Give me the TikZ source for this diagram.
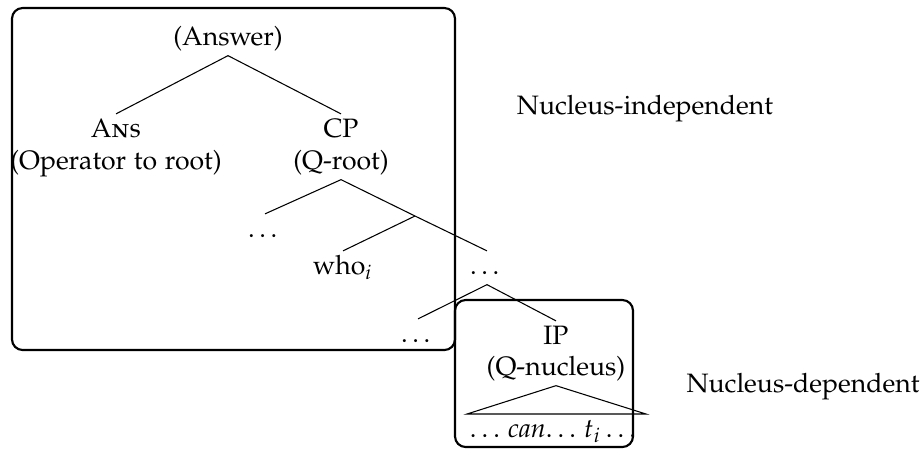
\documentclass[tikz,border=0pt]{standalone}
\usepackage[T1]{fontenc}
\usepackage[sc]{mathpazo}
\begin{document}
\begin{tikzpicture}[x=0.376pt, y=-0.376pt,
    lbl/.style={anchor=base, inner sep=1pt, text height=7.5pt, text depth=2.8pt},
    box/.style={line width=0.8pt, rounded corners=4pt}]
        \useasboundingbox (0,0) rectangle (924,449);

        % Draw the boxes
        \draw[box] (12,8) rectangle (455,350);
        \draw[box] (455,300) rectangle (633,447);

        % Upper part of the tree
        \node[lbl] (answer) at (228,45) {(Answer)};
        \node[lbl] (ans) at (116,137) {\textsc{Ans}};
        \node[lbl] (ansnote) at (116,169) {(Operator to root)};
        \node[lbl] (cp) at (341,137) {CP};
        \node[lbl] (cpnote) at (341,169) {(Q-root)};
        \coordinate (cbar) at (415,216);
        \node[lbl] (cdots) at (265,237) {\dots};
        \node[lbl] (who) at (343,274) {who$_i$};
        \node[lbl] (mdots) at (487,274) {\dots};

        \draw (answer.south) -- (ans.north);
        \draw (answer.south) -- (cp.north);
        \draw (cpnote.south) -- (cdots.north);
        \draw (cpnote.south) -- (cbar) -- (mdots.north);
        \draw (cbar) -- (who.north);

        % Lower part of the tree
        \node[lbl] (ldots) at (418,342) {\dots};
        \node[lbl] (ip) at (556,344) {IP};
        \node[lbl] (ipnote) at (556,375) {(Q-nucleus)};
        \node[lbl] (nucleus) at (553,437) {$\ldots$ \textit{can}$\ldots$ $t_i\ldots$};
        \coordinate (trileft) at (467,414);
        \coordinate (triright) at (646,414);

        \draw (mdots.south) -- (ldots.north);
        \draw (mdots.south) -- (ip.north);
        \draw (ipnote.south) -- (trileft) -- (triright) -- cycle;

        % Labels
        \node[anchor=base] (indep) at (645,114) {Nucleus-independent};
        \node[anchor=base] (dep) at (803,392) {Nucleus-dependent};

    \end{tikzpicture}
\end{document}
